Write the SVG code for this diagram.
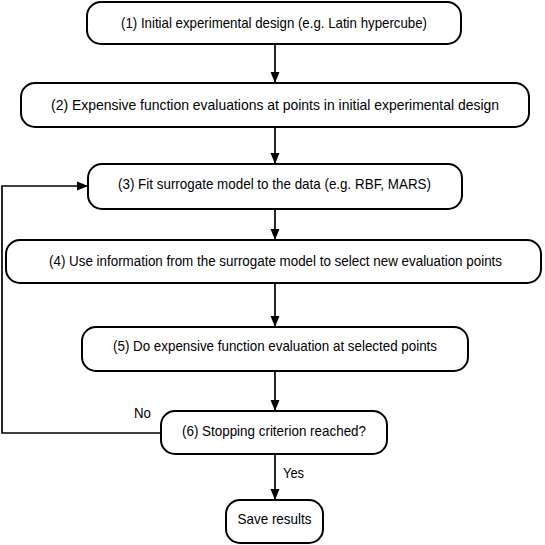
<svg xmlns="http://www.w3.org/2000/svg" width="545" height="545" viewBox="0 0 545 545">
<defs>
<marker id="ah" markerWidth="12" markerHeight="12" refX="11" refY="5.5" orient="auto" markerUnits="userSpaceOnUse">
<path d="M0,1 L11,5.5 L0,10 Z" fill="#000"/>
</marker>
<style>
.box{fill:#fff;stroke:#000;stroke-width:2}
.t{font-family:"Liberation Sans",Arial,sans-serif;font-size:15px;fill:#000;text-anchor:middle}
.l{font-family:"Liberation Sans",Arial,sans-serif;font-size:15px;fill:#000}
.c{fill:none;stroke:#000;stroke-width:1.7}
</style>
</defs>
<rect width="545" height="545" fill="#fff"/>
<g id="connectors">
<line class="c" x1="275" y1="44" x2="275" y2="83" marker-end="url(#ah)"/>
<line class="c" x1="275" y1="127" x2="275" y2="164" marker-end="url(#ah)"/>
<line class="c" x1="275" y1="209" x2="275" y2="240" marker-end="url(#ah)"/>
<line class="c" x1="275" y1="283" x2="275" y2="327" marker-end="url(#ah)"/>
<line class="c" x1="275" y1="371" x2="275" y2="411" marker-end="url(#ah)"/>
<line class="c" x1="275" y1="454" x2="275" y2="500" marker-end="url(#ah)"/>
<path class="c" d="M161,433 H2 V186 H88" marker-end="url(#ah)"/>
<text class="l" x="134" y="418" textLength="17" lengthAdjust="spacingAndGlyphs">No</text>
<text class="l" x="283" y="478" textLength="21" lengthAdjust="spacingAndGlyphs">Yes</text>
</g>
<g id="n1">
<rect class="box" x="87" y="2" width="374" height="42" rx="14"/>
<text class="t" x="274" y="28" textLength="306" lengthAdjust="spacingAndGlyphs">(1) Initial experimental design (e.g. Latin hypercube)</text>
</g>
<g id="n2">
<rect class="box" x="21" y="83" width="508" height="44" rx="14"/>
<text class="t" x="275" y="110" textLength="448" lengthAdjust="spacingAndGlyphs">(2) Expensive function evaluations at points in initial experimental design</text>
</g>
<g id="n3">
<rect class="box" x="88" y="164" width="374" height="45" rx="14"/>
<text class="t" x="274.5" y="189" textLength="313" lengthAdjust="spacingAndGlyphs">(3) Fit surrogate model to the data (e.g. RBF, MARS)</text>
</g>
<g id="n4">
<rect class="box" x="6" y="240" width="535" height="43" rx="14"/>
<text class="t" x="275.5" y="266" style="font-size:14px" textLength="453" lengthAdjust="spacingAndGlyphs">(4) Use information from the surrogate model to select new evaluation points</text>
</g>
<g id="n5">
<rect class="box" x="82" y="327" width="386" height="44" rx="14"/>
<text class="t" x="275" y="351" textLength="324" lengthAdjust="spacingAndGlyphs">(5) Do expensive function evaluation at selected points</text>
</g>
<g id="n6">
<rect class="box" x="161" y="411" width="226" height="43" rx="14"/>
<text class="t" x="274" y="436" textLength="184" lengthAdjust="spacingAndGlyphs">(6) Stopping criterion reached?</text>
</g>
<g id="n7">
<rect class="box" x="226" y="500" width="97" height="43" rx="14"/>
<text class="t" x="274.5" y="524" textLength="74" lengthAdjust="spacingAndGlyphs">Save results</text>
</g>
</svg>
